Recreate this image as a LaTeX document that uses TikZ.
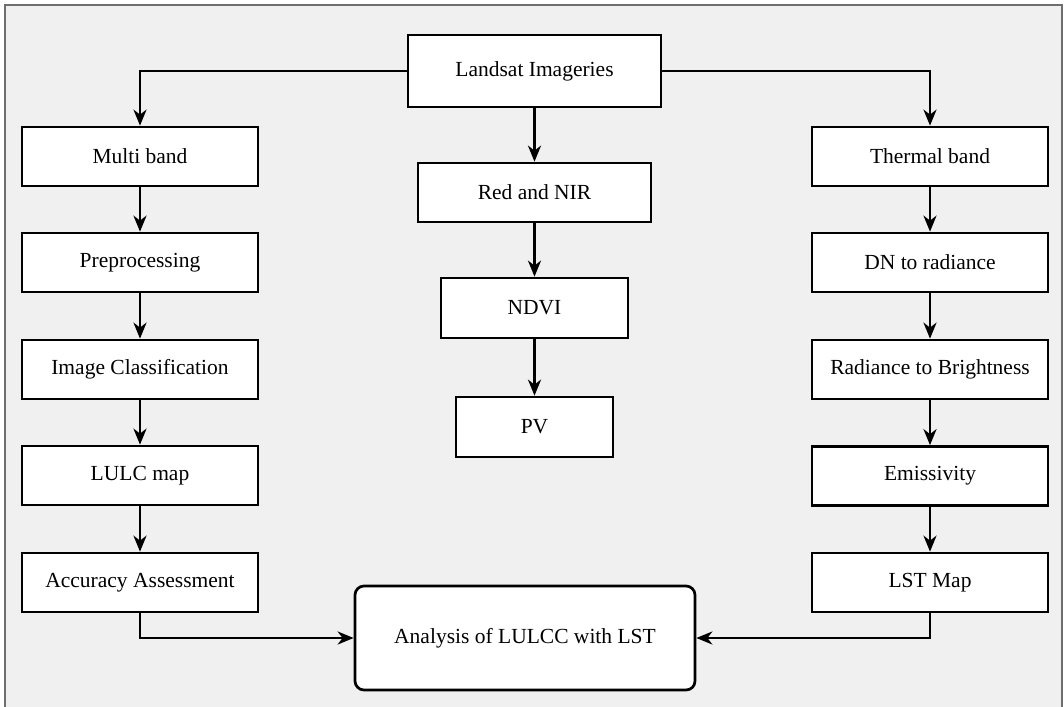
\documentclass[tikz,border=0pt]{standalone}
\usepackage{fontspec}
\setmainfont{Liberation Serif}
\usetikzlibrary{arrows.meta}
\definecolor{panelgray}{RGB}{240,240,240}
\definecolor{framegray}{RGB}{110,110,110}

\begin{document}
\begin{tikzpicture}[x=1pt,y=-1pt,
    box/.style={draw, line width=2.7pt, fill=white, inner sep=0pt,
      minimum width=236pt, minimum height=59pt, font=\fontsize{21.5}{25}\selectfont},
    flow/.style={draw, line width=2.7pt, -{Stealth[length=16pt,width=13pt,inset=5pt]}}]
        \useasboundingbox (0,0) rectangle (1064,706);
        \filldraw[fill=panelgray, draw=framegray, line width=1.8pt] (5,5) rectangle (1062,720);
        %% middle column
        \node[box, minimum width=253pt, minimum height=72pt] (landsat) at (534.5, 71) {Landsat Imageries};
        \node[box, minimum width=233pt] (red)  at (534.5,192.5) {Red and NIR};
        \node[box, minimum width=187pt, minimum height=60pt] (ndvi) at (534.5,308) {NDVI};
        \node[box, minimum width=157pt, minimum height=60pt] (pv)   at (534.5,427) {PV};
        %% left column
        \node[box] (multi) at (140,156.5) {Multi band};
        \node[box] (prep)  at (140,262.5) {Preprocessing};
        \node[box] (class) at (140,369.5) {Image Classification};
        \node[box] (lulc)  at (140,475.5) {LULC map};
        \node[box] (acc)   at (140,582.5) {Accuracy Assessment};
        %% right column
        \node[box] (thermal) at (930,156.5) {Thermal band};
        \node[box] (dn)      at (930,262.5) {DN to radiance};
        \node[box] (bright)  at (930,369.5) {Radiance to Brightness};
        \node[box] (emis)    at (930,476)   {Emissivity};
        \node[box] (lst)     at (930,582.5) {LST Map};
        \node[box, rounded corners=9pt, minimum width=340pt, minimum height=104pt] (analysis)
          at (525,638) {Analysis of LULCC with LST};
        \draw[flow] (landsat.west) -| (multi.north);
        \draw[flow] (landsat.east) -| (thermal.north);
        \draw[flow] (landsat) -- (red);
        \draw[flow] (red) -- (ndvi);
        \draw[flow] (ndvi) -- (pv);
        \draw[flow] (multi) -- (prep);
        \draw[flow] (prep) -- (class);
        \draw[flow] (class) -- (lulc);
        \draw[flow] (lulc) -- (acc);
        \draw[flow] (thermal) -- (dn);
        \draw[flow] (dn) -- (bright);
        \draw[flow] (bright) -- (emis);
        \draw[flow] (emis) -- (lst);
        \draw[flow] (acc.south) |- (analysis.west);
        \draw[flow] (lst.south) |- (analysis.east);
      \end{tikzpicture}
\end{document}
